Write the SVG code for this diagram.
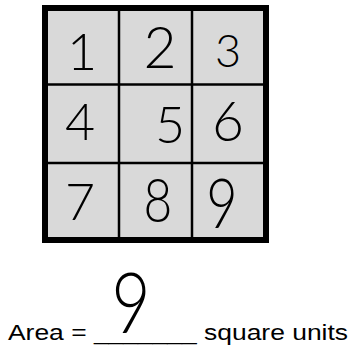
<svg xmlns="http://www.w3.org/2000/svg" width="353" height="352" viewBox="0 0 353 352">
  <style>
    .hand { font-family: "Lato", "Open Sans", "DejaVu Sans", sans-serif; font-weight: 300; fill: #000; text-anchor: middle; }
    .grid { stroke: #000; stroke-width: 2.5; fill: none; }
    .label { font-family: "Liberation Sans", "Open Sans", sans-serif; font-size: 22px; fill: #000; }
  </style>
  <rect width="353" height="352" fill="#fff"/>
  <g id="grid">
    <rect x="45" y="8" width="221" height="232" fill="#d9d9d9"/>
    <line class="grid" x1="119" y1="8" x2="119" y2="240"/>
    <line class="grid" x1="192" y1="8" x2="192" y2="240"/>
    <line class="grid" x1="45" y1="84.5" x2="266" y2="84.5"/>
    <line class="grid" x1="45" y1="163" x2="266" y2="163"/>
    <rect x="45" y="8" width="221" height="232" fill="none" stroke="#000" stroke-width="6"/>
  </g>
  <g id="digits">
    <text class="hand" x="82" y="70" font-size="52">1</text>
    <text class="hand" x="160" y="68" font-size="57">2</text>
    <text class="hand" x="228" y="67" font-size="45">3</text>
    <text class="hand" x="80" y="140" font-size="52">4</text>
    <text class="hand" x="170" y="143" font-size="52">5</text>
    <text class="hand" x="228" y="141" font-size="55">6</text>
    <text class="hand" x="80" y="220" font-size="52">7</text>
    <text class="hand" transform="translate(158 222) scale(0.8 1)" font-size="62">8</text>
    <text class="hand" transform="translate(222 228) scale(0.9 1.15)" font-size="60">9</text>
  </g>
  <g id="answer">
    <text class="label" x="8" y="340" textLength="340" lengthAdjust="spacingAndGlyphs">Area = _______ square units</text>
    <text class="hand" transform="translate(131 333) scale(0.8 1)" font-size="84">9</text>
  </g>
</svg>
